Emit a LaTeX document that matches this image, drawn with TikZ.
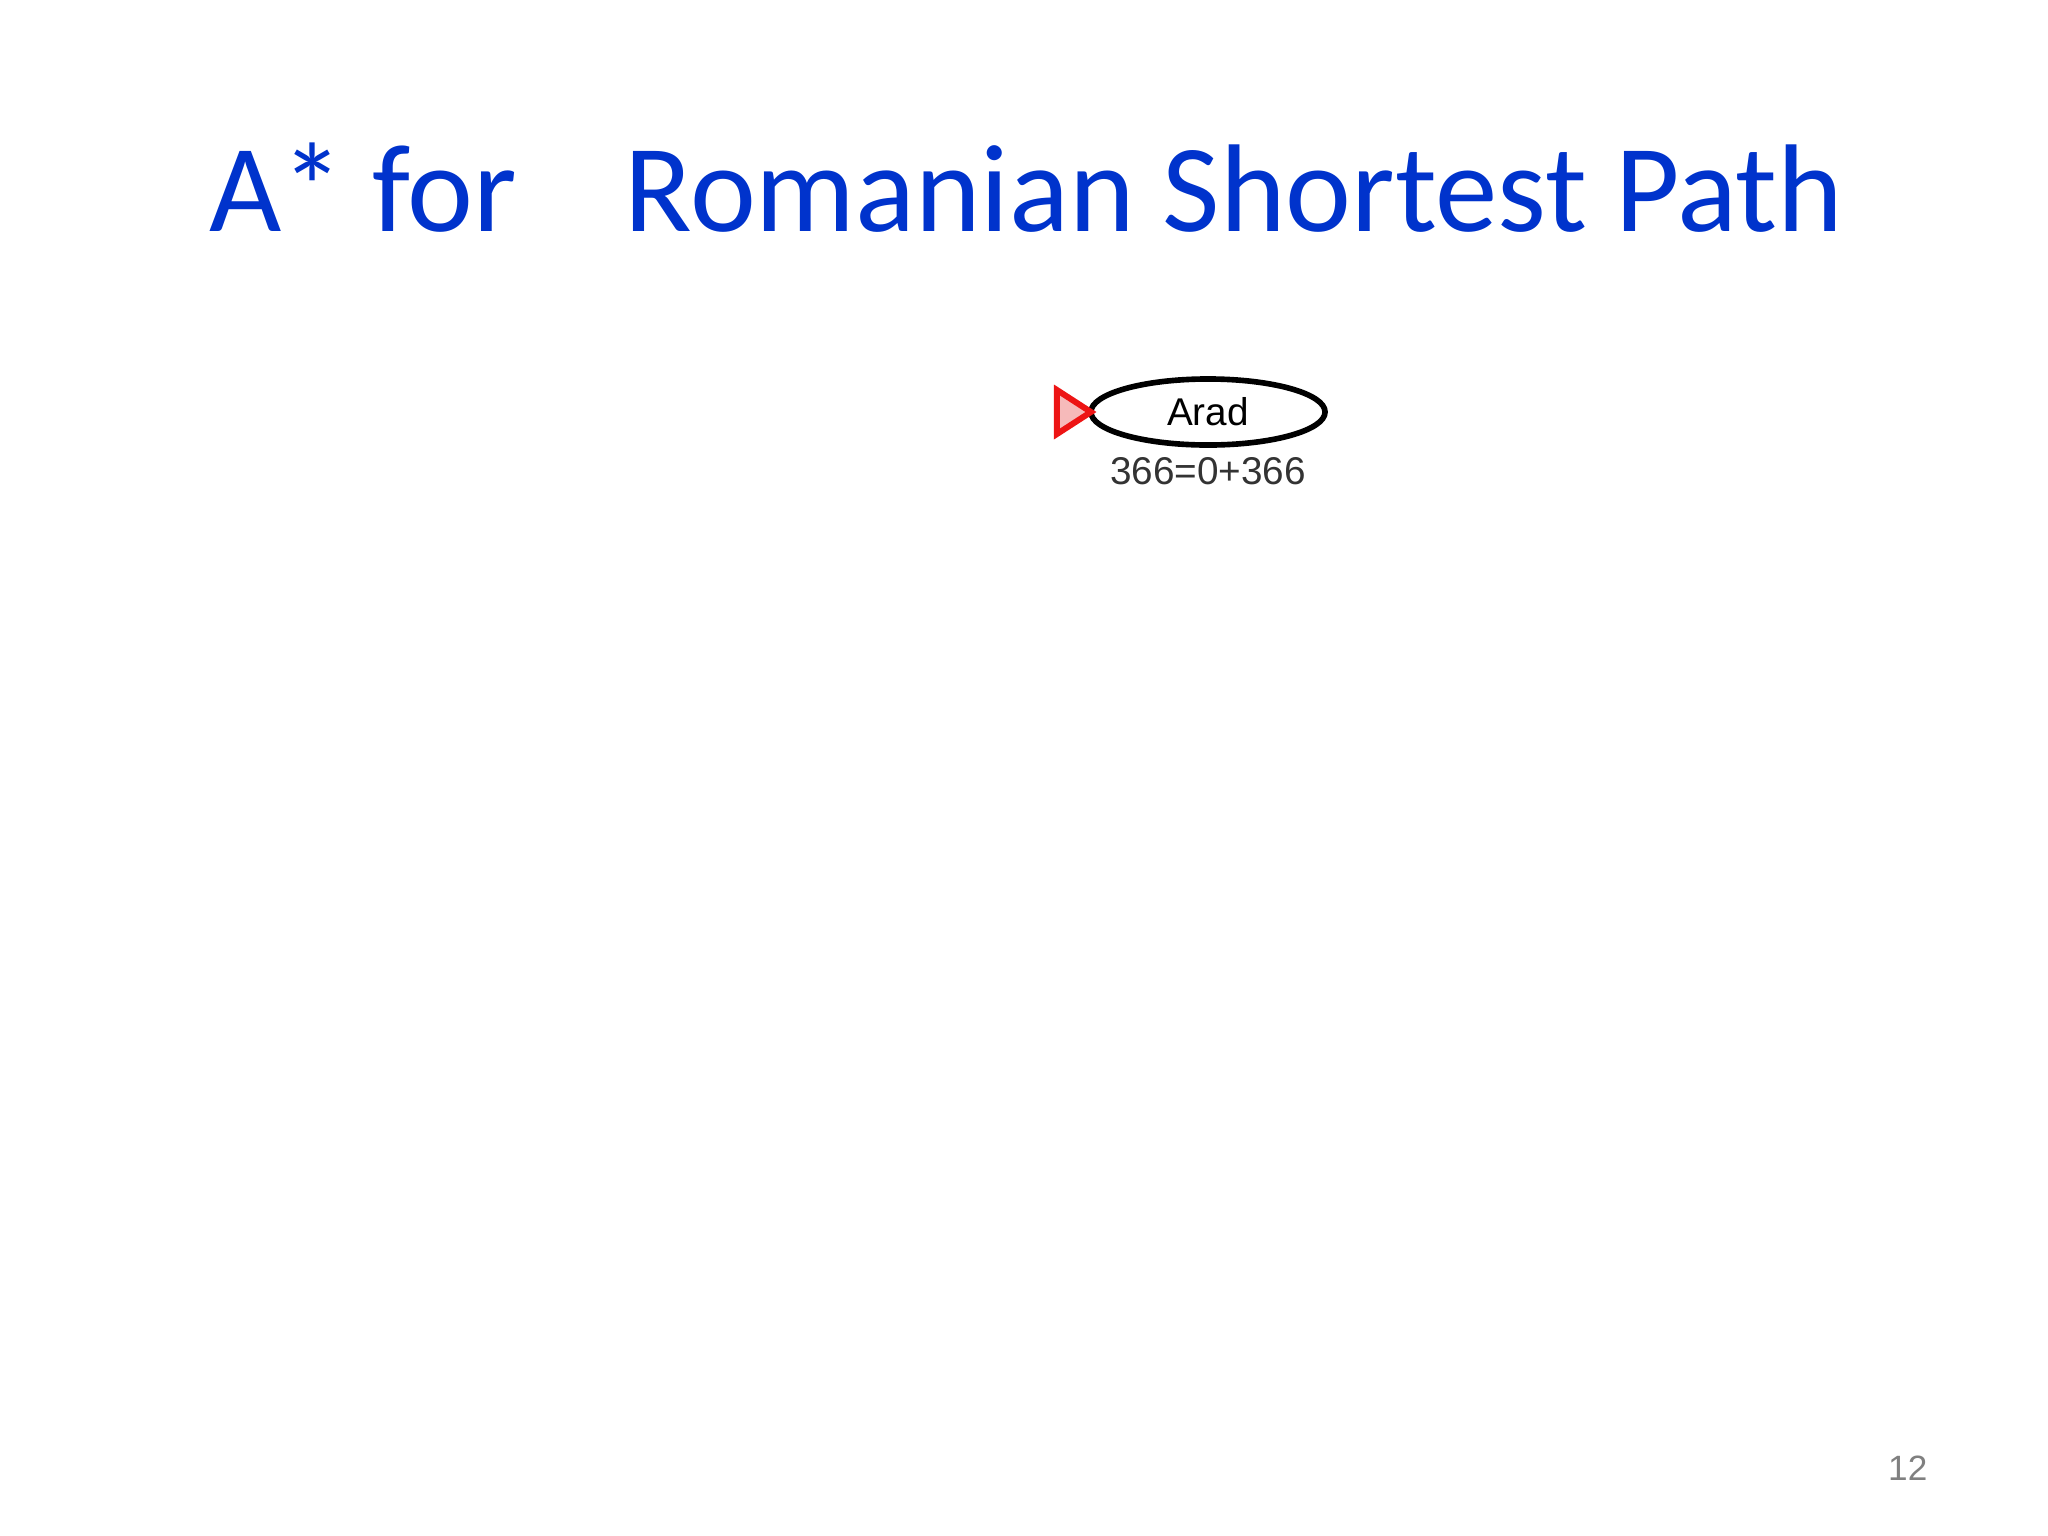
\documentclass[tikz,border=0pt]{standalone}
\usepackage{fontspec}
\setmainfont{Liberation Sans}
\newfontfamily\titlefont{Carlito}
\usetikzlibrary{shapes.geometric,positioning}
\definecolor{titleblue}{RGB}{0,51,204}
\definecolor{markred}{RGB}{237,20,20}
\definecolor{markpink}{RGB}{246,186,186}
\tikzset{
  heading/.style={inner sep=0, anchor=base west, text=titleblue, font=\titlefont\fontsize{35.5pt}{40pt}\selectfont},
  city/.style={ellipse, draw, line width=1.6pt, inner sep=0, outer sep=0, minimum width=2.34cm, minimum height=0.66cm, font=\fontsize{11pt}{13pt}\selectfont},
  cost/.style={inner sep=0, text=black!80, font=\fontsize{11pt}{13pt}\selectfont}
}

\begin{document}
\begin{tikzpicture}[x={(0.01cm,0)}, y={(0,-0.01cm)}]
\useasboundingbox (0,0) rectangle (2048,1536);
\node [heading] (title) at (209,231) {A* for};
\node [heading] (titlerest) at (624,231) {Romanian Shortest Path};
\node [city] (arad) at (1208,412) {Arad};
\node [cost, below=0.12cm of arad] (aradcost) {366=0+366};
\draw [line width=1.7pt, markred, fill=markpink, line join=miter] (arad.west) -- ++(-34,-22) -- ++(0,44) -- cycle;
\node [inner sep=0, anchor=base east, text=black!50, font=\fontsize{10pt}{12pt}\selectfont] (pagenum) at (1928,1480) {12};
\end{tikzpicture}
\end{document}
